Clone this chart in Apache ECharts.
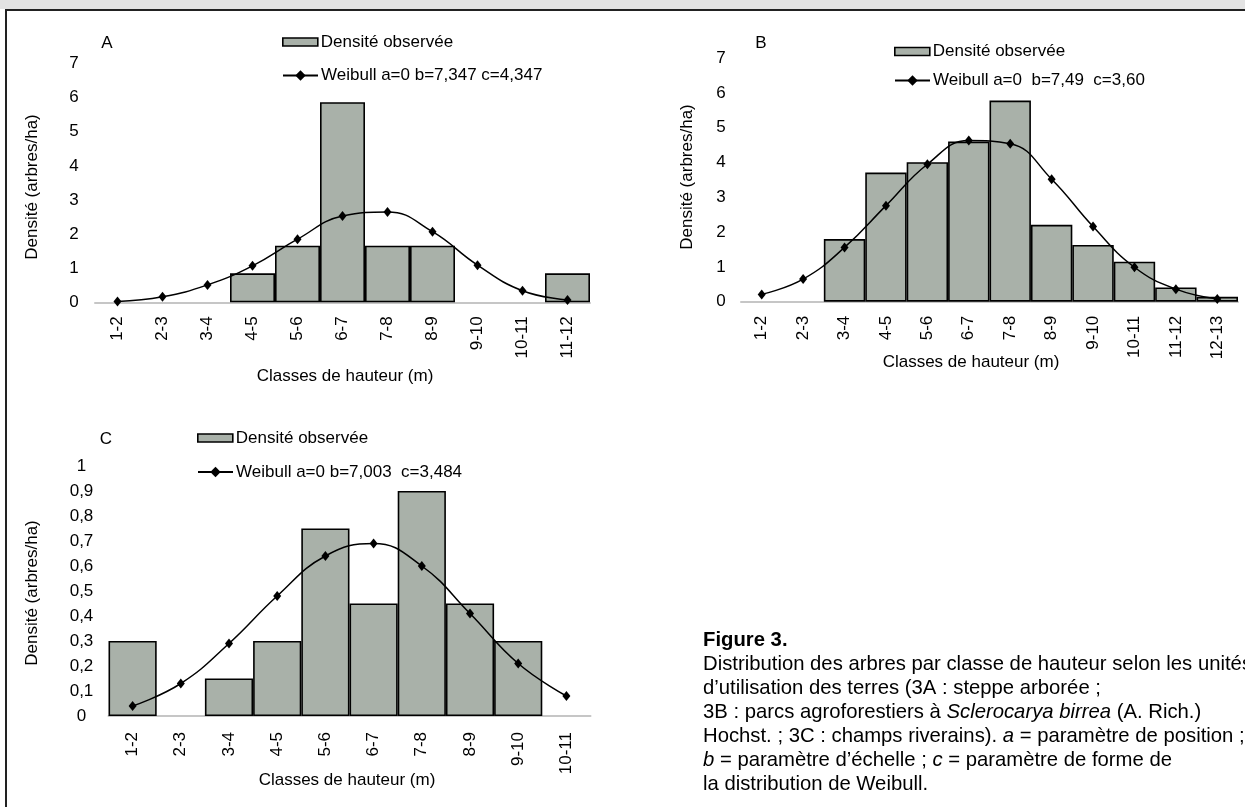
<!DOCTYPE html>
<html>
<head>
<meta charset="utf-8">
<script src="https://cdn.jsdelivr.net/npm/echarts@6/dist/echarts.min.js"></script>
<style>
html,body{margin:0;padding:0;background:#fff;}
#c{width:1245px;height:807px;}
</style>
</head>
<body>
<div id="c"></div>
<script>
// ---- Data ----
const categoriesA = ['1-2','2-3','3-4','4-5','5-6','6-7','7-8','8-9','9-10','10-11','11-12'];
const densityA = [0, 0, 0, 0.85, 1.66, 5.87, 1.66, 1.66, 0, 0, 0.85];
const weibullA = [0.02, 0.16, 0.51, 1.07, 1.85, 2.53, 2.65, 2.07, 1.09, 0.34, 0.07];

const categoriesB = ['1-2','2-3','3-4','4-5','5-6','6-7','7-8','8-9','9-10','10-11','11-12','12-13'];
const densityB = [0, 0, 1.80, 3.71, 4.01, 4.60, 5.78, 2.21, 1.63, 1.15, 0.41, 0.14];
const weibullB = [0.21, 0.65, 1.56, 2.76, 3.95, 4.63, 4.54, 3.52, 2.16, 0.99, 0.36, 0.08];

const categoriesC = ['1-2','2-3','3-4','4-5','5-6','6-7','7-8','8-9','9-10','10-11'];
const densityC = [0.30, 0, 0.15, 0.30, 0.75, 0.45, 0.90, 0.45, 0.30, 0];
const weibullC = [0.04, 0.13, 0.29, 0.48, 0.64, 0.69, 0.60, 0.41, 0.21, 0.08];

const yTicksAB = ['0','1','2','3','4','5','6','7'];
const yTicksC = ['0','0,1','0,2','0,3','0,4','0,5','0,6','0,7','0,8','0,9','1'];

const barName = 'Densité observée';
const lineNameA = 'Weibull a=0 b=7,347 c=4,347';
const lineNameB = 'Weibull a=0  b=7,49  c=3,60';
const lineNameC = 'Weibull a=0 b=7,003  c=3,484';
const yTitle = 'Densité (arbres/ha)';
const xTitle = 'Classes de hauteur (m)';

// ---- Styles ----
const FONT = "'Liberation Sans', Arial, sans-serif";
const FS = 17;
const CAP_FS = 20.3;
const BAR_FILL = '#a9b1a9';
const AXIS_GREY = '#c6c6c6';

const chart = echarts.init(document.getElementById('c'), null, {renderer: 'canvas'});

function grid(left, top, width, height) {
  return {left: left, top: top, width: width, height: height, containLabel: false};
}
function xAxis(idx, cats, margin) {
  return {
    type: 'category', gridIndex: idx, data: cats, boundaryGap: true,
    axisLine: {show: true, lineStyle: {color: AXIS_GREY, width: 2}},
    axisTick: {show: false},
    axisLabel: {rotate: 90, margin: margin, fontSize: FS, fontFamily: FONT, color: '#000', interval: 0},
    splitLine: {show: false}
  };
}
function yAxis(idx, max, interval, ticks, margin) {
  return {
    type: 'value', gridIndex: idx, min: 0, max: max, interval: interval,
    axisLine: {show: false}, axisTick: {show: false}, splitLine: {show: false},
    axisLabel: {
      margin: margin, align: 'center', fontSize: FS, fontFamily: FONT, color: '#000',
      formatter: function (v) { return ticks[Math.round(v / interval)]; }
    }
  };
}
function barSeries(idx, vals) {
  return {
    name: barName, type: 'bar', xAxisIndex: idx, yAxisIndex: idx,
    barCategoryGap: '0%', barGap: '0%',
    data: vals.map(function (v) { return v === 0 ? '-' : v; }),
    itemStyle: {color: BAR_FILL, borderColor: '#000', borderWidth: 1.6},
    emphasis: {disabled: true}, animation: false, z: 2
  };
}
function lineSeries(idx, name, vals) {
  return {
    name: name, type: 'line', xAxisIndex: idx, yAxisIndex: idx,
    data: vals, smooth: 0.45, symbol: 'diamond', symbolSize: [8, 10],
    lineStyle: {color: '#000', width: 1.5},
    itemStyle: {color: '#000'},
    emphasis: {disabled: true}, animation: false, z: 3
  };
}
function barLegend(left, top) {
  return {
    left: left, top: top, padding: 0, itemWidth: 35, itemHeight: 8,
    selectedMode: false,
    textStyle: {fontSize: FS, fontFamily: FONT, color: '#000', padding: [0, 0, 0, -2]},
    data: [{name: barName, icon: 'rect', itemStyle: {color: BAR_FILL, borderColor: '#000', borderWidth: 1.6}}]
  };
}
function lineLegend(left, top, lineName) {
  return {
    left: left, top: top, padding: 0, itemWidth: 35, itemHeight: 13,
    selectedMode: false,
    textStyle: {fontSize: FS, fontFamily: FONT, color: '#000', padding: [0, 0, 0, -2]},
    data: [{name: lineName}]
  };
}
function txt(x, y, text, opts) {
  opts = opts || {};
  const fs = opts.fs || FS;
  return {
    type: 'text', x: x, y: y, rotation: opts.rotation || 0, silent: true,
    style: Object.assign({
      text: text, font: (opts.weight || 'normal') + ' ' + fs + 'px ' + FONT,
      fill: '#000', align: opts.align || 'center', verticalAlign: 'middle'
    }, opts.style || {})
  };
}

const rich = {i: {fontStyle: 'italic', fontSize: CAP_FS, fontFamily: FONT, fill: '#000'}};
const capX = 703;
const capOpts = {align: 'left', fs: CAP_FS};
const capRich = {align: 'left', fs: CAP_FS, style: {rich: rich}};
const caption = [
  txt(capX, 640, 'Figure 3.', {align: 'left', fs: CAP_FS, weight: 'bold'}),
  txt(capX, 664, 'Distribution des arbres par classe de hauteur selon les unités', capOpts),
  txt(capX, 688, 'd’utilisation des terres (3A : steppe arborée ;', capOpts),
  txt(capX, 712, '3B : parcs agroforestiers à {i|Sclerocarya birrea} (A. Rich.)', capRich),
  txt(capX, 736, 'Hochst. ; 3C : champs riverains). {i|a} = paramètre de position ;', capRich),
  txt(capX, 760, '{i|b} = paramètre d’échelle ; {i|c} = paramètre de forme de', capRich),
  txt(capX, 784, 'la distribution de Weibull.', capOpts)
];

const option = {
  backgroundColor: '#fff',
  animation: false,
  grid: [
    grid(95, 63.6, 495, 238.7),
    grid(741, 58.1, 497, 243.6),
    grid(108.5, 466, 482, 250)
  ],
  xAxis: [xAxis(0, categoriesA, 14), xAxis(1, categoriesB, 14), xAxis(2, categoriesC, 16)],
  yAxis: [
    yAxis(0, 7, 1, yTicksAB, 21),
    yAxis(1, 7, 1, yTicksAB, 20),
    yAxis(2, 1, 0.1, yTicksC, 27)
  ],
  legend: [
    barLegend(282, 33.5), lineLegend(282, 67, lineNameA),
    barLegend(894, 43), lineLegend(894, 72, lineNameB),
    barLegend(197, 429.5), lineLegend(197, 463.5, lineNameC)
  ],
  series: [
    barSeries(0, densityA), lineSeries(0, lineNameA, weibullA),
    barSeries(1, densityB), lineSeries(1, lineNameB, weibullB),
    barSeries(2, densityC), lineSeries(2, lineNameC, weibullC)
  ],
  graphic: [
    {type: 'rect', silent: true, shape: {x: 0, y: 0, width: 1245, height: 9}, style: {fill: '#e3e3e3'}},
    {type: 'line', silent: true, shape: {x1: 5, y1: 10, x2: 1245, y2: 10}, style: {stroke: '#222', lineWidth: 2}},
    {type: 'line', silent: true, shape: {x1: 6, y1: 9, x2: 6, y2: 807}, style: {stroke: '#222', lineWidth: 2}},
    txt(107, 43, 'A'), txt(761, 43, 'B'), txt(106, 439, 'C'),
    txt(32, 187, yTitle, {rotation: Math.PI / 2}),
    txt(687, 177, yTitle, {rotation: Math.PI / 2}),
    txt(32, 593, yTitle, {rotation: Math.PI / 2}),
    txt(345, 376, xTitle), txt(971, 362, xTitle), txt(347, 780, xTitle)
  ].concat(caption)
};
chart.setOption(option);
</script>
</body>
</html>
